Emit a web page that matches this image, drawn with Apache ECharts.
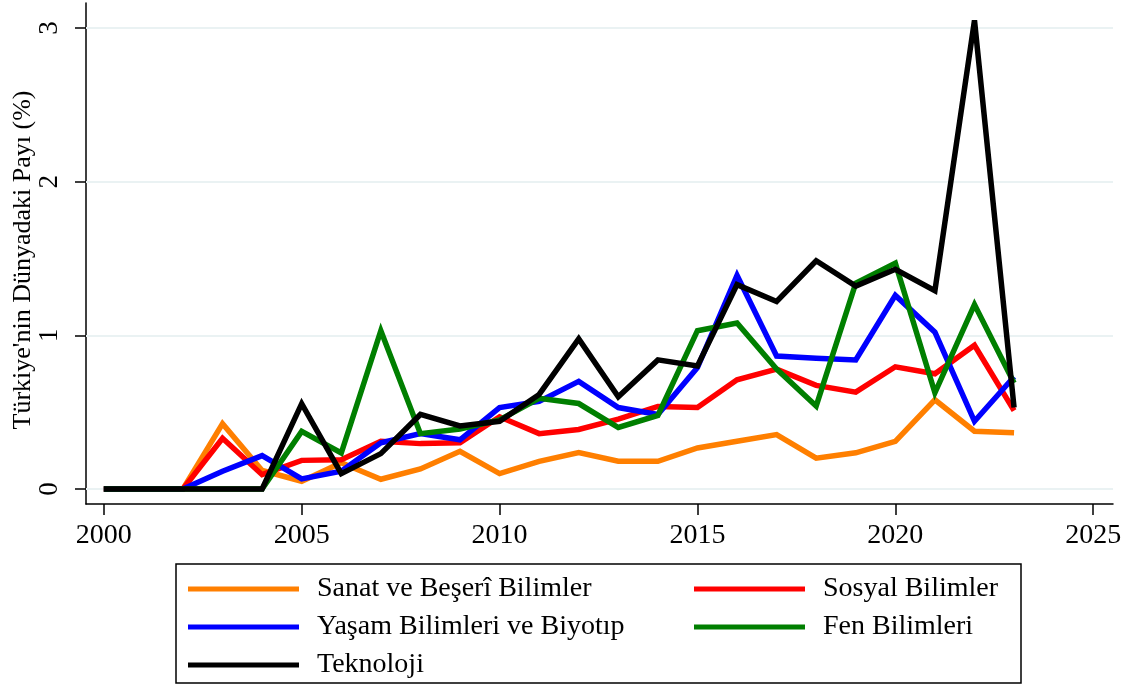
<!DOCTYPE html>
<html>
<head>
<meta charset="utf-8">
<script src="https://cdn.jsdelivr.net/npm/echarts@6/dist/echarts.min.js"></script>
<style>
html,body{margin:0;padding:0;background:#fff;}
#chart{width:1137px;height:686px;}
</style>
</head>
<body>
<div id="chart"></div>
<script>
const years = [2000,2001,2002,2003,2004,2005,2006,2007,2008,2009,2010,2011,2012,2013,2014,2015,2016,2017,2018,2019,2020,2021,2022,2023];
const sanat    = [0,0,0,0.425,0.12,0.05,0.17,0.063,0.13,0.245,0.10,0.18,0.237,0.18,0.18,0.267,0.31,0.354,0.20,0.235,0.31,0.58,0.376,0.365];
const sosyal   = [0,0,0,0.33,0.093,0.186,0.19,0.31,0.295,0.30,0.47,0.36,0.387,0.455,0.537,0.53,0.71,0.78,0.674,0.63,0.795,0.75,0.935,0.51];
const yasam    = [0,0,0,0.115,0.217,0.065,0.115,0.30,0.36,0.32,0.53,0.57,0.70,0.53,0.485,0.79,1.39,0.865,0.85,0.84,1.26,1.02,0.44,0.73];
const fen      = [0,0,0,0,0,0.375,0.234,1.03,0.36,0.39,0.45,0.59,0.556,0.40,0.478,1.03,1.08,0.78,0.54,1.34,1.47,0.626,1.20,0.69];
const teknoloji= [0,0,0,0,0,0.555,0.10,0.23,0.485,0.41,0.44,0.615,0.977,0.60,0.84,0.80,1.33,1.22,1.485,1.32,1.43,1.29,3.05,0.53];
const seriesNames = ['Sanat ve Beşerî Bilimler','Sosyal Bilimler','Yaşam Bilimleri ve Biyotıp','Fen Bilimleri','Teknoloji'];
const xTicks = [2000,2005,2010,2015,2020,2025];
const yTicks = [0,1,2,3];
const yTitle = "Türkiye'nin Dünyadaki Payı (%)";

const FONT = '"Liberation Serif","Times New Roman",serif';
const colors = ['#ff7f00','#ff0000','#0000ff','#007f00','#000000'];
const allVals = [sanat, sosyal, yasam, fen, teknoloji];

const chart = echarts.init(document.getElementById('chart'), null, {renderer:'canvas'});

const series = allVals.map((vals, k) => ({
  name: seriesNames[k],
  type: 'line',
  data: years.map((y, i) => [y, vals[i]]),
  symbol: 'none',
  color: colors[k],
  itemStyle: {color: colors[k]},
  lineStyle: {width: 5.5, color: colors[k], join: 'miter', miterLimit: 4, cap: 'butt'},
  z: 2 + k,
  silent: true,
  animation: false
}));
series.push({
  type: 'line',
  data: [],
  silent: true,
  animation: false,
  markLine: {
    silent: true,
    symbol: ['none','none'],
    z: 1,
    label: {show: false},
    lineStyle: {color: '#eaf2f3', width: 2, type: 'solid'},
    data: yTicks.map(v => ({yAxis: v})),
    animation: false
  }
});

const legendText = {fontFamily: FONT, fontSize: 28, color: '#000', padding: [0,0,0,13], lineHeight: 26};

chart.setOption({
  animation: false,
  backgroundColor: '#fff',
  grid: {left: 86, top: 3, right: 24, bottom: 182, containLabel: false, outerBoundsMode: 'none'},
  xAxis: {
    type: 'value',
    min: 1999.55, max: 2025.5,
    axisLine: {show: true, onZero: false, lineStyle: {color: '#000', width: 1.5}},
    axisTick: {show: true, length: 11, customValues: xTicks, lineStyle: {color: '#000', width: 1.5}},
    axisLabel: {customValues: xTicks, margin: 18, fontFamily: FONT, fontSize: 28, color: '#000', formatter: v => String(v)},
    splitLine: {show: false}
  },
  yAxis: {
    type: 'value',
    min: -0.098, max: 3.163,
    name: yTitle,
    nameLocation: 'middle',
    nameGap: 50,
    nameMoveOverlap: false,
    nameTextStyle: {fontFamily: FONT, fontSize: 26, color: '#000', padding: [0,13,0,0]},
    axisLine: {show: true, onZero: false, lineStyle: {color: '#000', width: 1.5}},
    axisTick: {show: true, length: 11, customValues: yTicks, lineStyle: {color: '#000', width: 1.5}},
    axisLabel: {customValues: yTicks, rotate: 90, margin: 23, fontFamily: FONT, fontSize: 27, color: '#000', formatter: v => String(v)},
    splitLine: {show: false}
  },
  legend: [
    {data: [seriesNames[0], seriesNames[2], seriesNames[4]], orient: 'vertical', left: 188, top: 575, padding: 0,
     itemWidth: 111, itemHeight: 5, itemGap: 10, icon: 'rect', textStyle: legendText, selectedMode: false},
    {data: [seriesNames[1], seriesNames[3]], orient: 'vertical', left: 694, top: 575, padding: 0,
     itemWidth: 111, itemHeight: 5, itemGap: 10, icon: 'rect', textStyle: legendText, selectedMode: false}
  ],
  graphic: [{
    type: 'rect', silent: true,
    shape: {x: 176, y: 564, width: 845, height: 119},
    style: {fill: 'none', stroke: '#000', lineWidth: 1.5}
  }],
  series: series
});
</script>
</body>
</html>
